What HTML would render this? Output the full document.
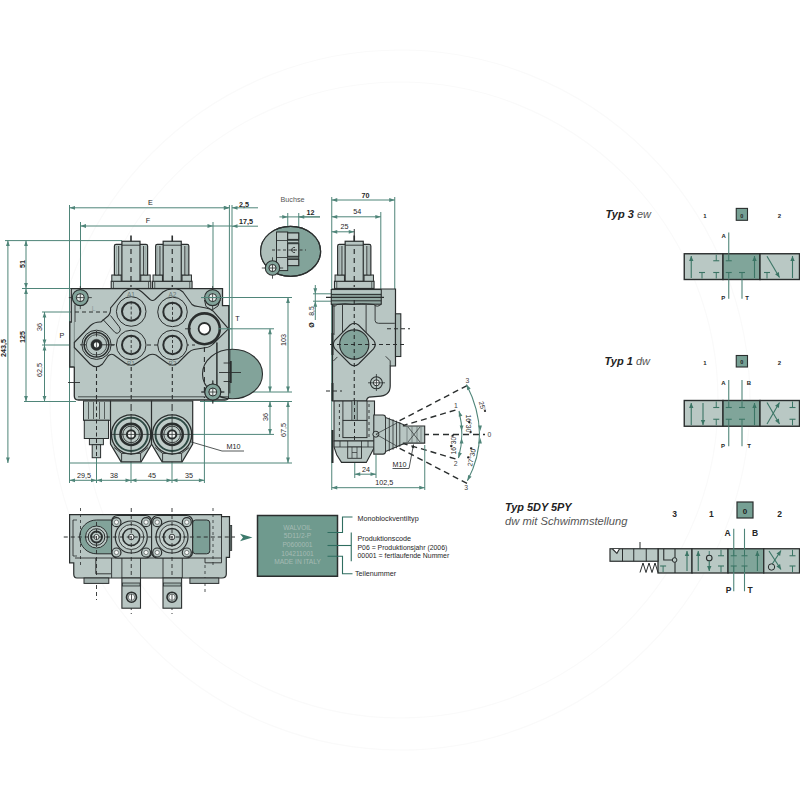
<!DOCTYPE html><html><head><meta charset="utf-8"><style>html,body{margin:0;padding:0;background:#fff;}svg{display:block;}text{font-family:"Liberation Sans",sans-serif;}</style></head><body>
<svg width="800" height="800" viewBox="0 0 800 800">
<rect width="800" height="800" fill="#fff"/>
<circle cx="400" cy="400" r="350" fill="none" stroke="#fafafa" stroke-width="1.2"/>
<circle cx="400" cy="400" r="318" fill="none" stroke="#fafafa" stroke-width="1.2"/>
<line x1="69.5" y1="205" x2="69.5" y2="483" stroke="#4f8579" stroke-width="1" />
<line x1="80.5" y1="222" x2="80.5" y2="300" stroke="#4f8579" stroke-width="1" />
<line x1="229.4" y1="205" x2="229.4" y2="395" stroke="#4f8579" stroke-width="1" />
<line x1="232" y1="205" x2="232" y2="395" stroke="#4f8579" stroke-width="1" />
<line x1="213" y1="222" x2="213" y2="300" stroke="#4f8579" stroke-width="1" />
<line x1="5" y1="240.6" x2="122" y2="240.6" stroke="#4f8579" stroke-width="1" />
<line x1="22" y1="288.5" x2="72" y2="288.5" stroke="#4f8579" stroke-width="1" />
<line x1="42" y1="312" x2="72" y2="312" stroke="#4f8579" stroke-width="1" />
<line x1="42" y1="345" x2="76" y2="345" stroke="#4f8579" stroke-width="1" />
<line x1="24" y1="401.5" x2="76" y2="401.5" stroke="#4f8579" stroke-width="1" />
<line x1="69.5" y1="463" x2="292" y2="463" stroke="#4f8579" stroke-width="1" />
<line x1="201" y1="297.5" x2="292" y2="297.5" stroke="#4f8579" stroke-width="1" />
<line x1="185" y1="328.8" x2="274" y2="328.8" stroke="#4f8579" stroke-width="1" />
<line x1="232" y1="392" x2="292" y2="392" stroke="#4f8579" stroke-width="1" />
<line x1="200" y1="401.5" x2="292" y2="401.5" stroke="#4f8579" stroke-width="1" />
<line x1="172" y1="434.4" x2="274" y2="434.4" stroke="#4f8579" stroke-width="1" />
<line x1="96.5" y1="440" x2="96.5" y2="483" stroke="#4f8579" stroke-width="1" />
<line x1="131" y1="440" x2="131" y2="483" stroke="#4f8579" stroke-width="1" />
<line x1="172" y1="440" x2="172" y2="483" stroke="#4f8579" stroke-width="1" />
<line x1="204.4" y1="400" x2="204.4" y2="483" stroke="#4f8579" stroke-width="1" />
<line x1="69.5" y1="207.8" x2="229.4" y2="207.8" stroke="#4f8579" stroke-width="1" />
<path d="M69.50,207.80 L75.00,205.90 L75.00,209.70Z" fill="#4f8579"/>
<path d="M229.40,207.80 L223.90,209.70 L223.90,205.90Z" fill="#4f8579"/>
<text x="150.5" y="205" font-size="7.2" font-weight="normal" text-anchor="middle" fill="#262626">E</text>
<line x1="80.5" y1="226" x2="213" y2="226" stroke="#4f8579" stroke-width="1" />
<path d="M80.50,226.00 L86.00,224.10 L86.00,227.90Z" fill="#4f8579"/>
<path d="M213.00,226.00 L207.50,227.90 L207.50,224.10Z" fill="#4f8579"/>
<text x="148" y="223" font-size="7.2" font-weight="normal" text-anchor="middle" fill="#262626">F</text>
<line x1="213" y1="226" x2="232" y2="226" stroke="#4f8579" stroke-width="1" />
<path d="M229.40,207.80 L223.90,209.70 L223.90,205.90Z" fill="#4f8579"/>
<path d="M232.00,207.80 L237.50,205.90 L237.50,209.70Z" fill="#4f8579"/>
<line x1="232" y1="207.8" x2="258" y2="207.8" stroke="#4f8579" stroke-width="1" />
<text x="244" y="206.8" font-size="7.2" font-weight="bold" font-style="normal" text-anchor="middle" fill="#262626" >2,5</text>
<path d="M232.00,226.20 L237.50,224.30 L237.50,228.10Z" fill="#4f8579"/>
<line x1="232" y1="226.2" x2="258" y2="226.2" stroke="#4f8579" stroke-width="1" />
<text x="246" y="223.8" font-size="7.2" font-weight="bold" font-style="normal" text-anchor="middle" fill="#262626" >17,5</text>
<line x1="7.9" y1="240.6" x2="7.9" y2="463" stroke="#4f8579" stroke-width="1" />
<path d="M7.90,240.60 L9.80,246.10 L6.00,246.10Z" fill="#4f8579"/>
<path d="M7.90,463.00 L6.00,457.50 L9.80,457.50Z" fill="#4f8579"/>
<text x="0" y="0" transform="translate(6.2,348) rotate(-90)" font-size="7.2" font-weight="bold" text-anchor="middle" fill="#262626">243,5</text>
<line x1="26" y1="240.6" x2="26" y2="288.5" stroke="#4f8579" stroke-width="1" />
<path d="M26.00,240.60 L27.90,246.10 L24.10,246.10Z" fill="#4f8579"/>
<path d="M26.00,288.50 L24.10,283.00 L27.90,283.00Z" fill="#4f8579"/>
<text x="0" y="0" transform="translate(25,264) rotate(-90)" font-size="7.2" font-weight="bold" text-anchor="middle" fill="#262626">51</text>
<line x1="26" y1="288.5" x2="26" y2="401.5" stroke="#4f8579" stroke-width="1" />
<path d="M26.00,288.50 L27.90,294.00 L24.10,294.00Z" fill="#4f8579"/>
<path d="M26.00,401.50 L24.10,396.00 L27.90,396.00Z" fill="#4f8579"/>
<text x="0" y="0" transform="translate(25,337) rotate(-90)" font-size="7.2" font-weight="bold" text-anchor="middle" fill="#262626">125</text>
<line x1="44.5" y1="312" x2="44.5" y2="345" stroke="#4f8579" stroke-width="1" />
<path d="M44.50,312.00 L46.40,317.50 L42.60,317.50Z" fill="#4f8579"/>
<path d="M44.50,345.00 L42.60,339.50 L46.40,339.50Z" fill="#4f8579"/>
<text x="0" y="0" transform="translate(42.2,327) rotate(-90)" font-size="7.2" font-weight="normal" text-anchor="middle" fill="#262626">36</text>
<line x1="44.5" y1="345" x2="44.5" y2="401.5" stroke="#4f8579" stroke-width="1" />
<path d="M44.50,345.00 L46.40,350.50 L42.60,350.50Z" fill="#4f8579"/>
<path d="M44.50,401.50 L42.60,396.00 L46.40,396.00Z" fill="#4f8579"/>
<text x="0" y="0" transform="translate(42.2,370) rotate(-90)" font-size="7.2" font-weight="normal" text-anchor="middle" fill="#262626">62,5</text>
<line x1="288" y1="297.5" x2="288" y2="392" stroke="#4f8579" stroke-width="1" />
<path d="M288.00,297.50 L289.90,303.00 L286.10,303.00Z" fill="#4f8579"/>
<path d="M288.00,392.00 L286.10,386.50 L289.90,386.50Z" fill="#4f8579"/>
<text x="0" y="0" transform="translate(286,340) rotate(-90)" font-size="7.2" font-weight="normal" text-anchor="middle" fill="#262626">103</text>
<line x1="270" y1="328.8" x2="270" y2="392" stroke="#4f8579" stroke-width="1" />
<path d="M270.00,328.80 L271.90,334.30 L268.10,334.30Z" fill="#4f8579"/>
<path d="M270.00,392.00 L268.10,386.50 L271.90,386.50Z" fill="#4f8579"/>
<line x1="270" y1="401.5" x2="270" y2="434.4" stroke="#4f8579" stroke-width="1" />
<path d="M270.00,401.50 L271.90,407.00 L268.10,407.00Z" fill="#4f8579"/>
<path d="M270.00,434.40 L268.10,428.90 L271.90,428.90Z" fill="#4f8579"/>
<text x="0" y="0" transform="translate(268,417) rotate(-90)" font-size="7.2" font-weight="normal" text-anchor="middle" fill="#262626">36</text>
<line x1="288" y1="401.5" x2="288" y2="463" stroke="#4f8579" stroke-width="1" />
<path d="M288.00,401.50 L289.90,407.00 L286.10,407.00Z" fill="#4f8579"/>
<path d="M288.00,463.00 L286.10,457.50 L289.90,457.50Z" fill="#4f8579"/>
<text x="0" y="0" transform="translate(286,430) rotate(-90)" font-size="7.2" font-weight="normal" text-anchor="middle" fill="#262626">67,5</text>
<line x1="69.5" y1="480.3" x2="96.5" y2="480.3" stroke="#4f8579" stroke-width="1" />
<path d="M69.50,480.30 L75.00,478.40 L75.00,482.20Z" fill="#4f8579"/>
<path d="M96.50,480.30 L91.00,482.20 L91.00,478.40Z" fill="#4f8579"/>
<text x="84" y="477.5" font-size="7.2" font-weight="normal" text-anchor="middle" fill="#262626">29,5</text>
<line x1="96.5" y1="480.3" x2="131" y2="480.3" stroke="#4f8579" stroke-width="1" />
<path d="M96.50,480.30 L102.00,478.40 L102.00,482.20Z" fill="#4f8579"/>
<path d="M131.00,480.30 L125.50,482.20 L125.50,478.40Z" fill="#4f8579"/>
<text x="114" y="477.5" font-size="7.2" font-weight="normal" text-anchor="middle" fill="#262626">38</text>
<line x1="131" y1="480.3" x2="172" y2="480.3" stroke="#4f8579" stroke-width="1" />
<path d="M131.00,480.30 L136.50,478.40 L136.50,482.20Z" fill="#4f8579"/>
<path d="M172.00,480.30 L166.50,482.20 L166.50,478.40Z" fill="#4f8579"/>
<text x="152" y="477.5" font-size="7.2" font-weight="normal" text-anchor="middle" fill="#262626">45</text>
<line x1="172" y1="480.3" x2="204.4" y2="480.3" stroke="#4f8579" stroke-width="1" />
<path d="M172.00,480.30 L177.50,478.40 L177.50,482.20Z" fill="#4f8579"/>
<path d="M204.40,480.30 L198.90,482.20 L198.90,478.40Z" fill="#4f8579"/>
<text x="189" y="477.5" font-size="7.2" font-weight="normal" text-anchor="middle" fill="#262626">35</text>
<text x="62" y="338" font-size="7.2" font-weight="normal" font-style="normal" text-anchor="middle" fill="#262626" >P</text>
<text x="237.5" y="321" font-size="7.2" font-weight="normal" font-style="normal" text-anchor="middle" fill="#262626" >T</text>
<line x1="131" y1="235.5" x2="131" y2="242" stroke="#2a2e2e" stroke-width="1.6" />
<rect x="111.2" y="281.25" width="39.6" height="7.2" fill="#b8c6c3" stroke="#2a2e2e" stroke-width="1.1" />
<line x1="113.5" y1="282" x2="113.5" y2="288" stroke="#2a2e2e" stroke-width="0.7" />
<line x1="148.5" y1="282" x2="148.5" y2="288" stroke="#2a2e2e" stroke-width="0.7" />
<rect x="111.8" y="275" width="9.4" height="6.25" fill="#b8c6c3" stroke="#2a2e2e" stroke-width="1" />
<rect x="140.8" y="275" width="9.4" height="6.25" fill="#b8c6c3" stroke="#2a2e2e" stroke-width="1" />
<path d="M114.4,275 L114.4,246 Q114.4,244.4 116,244.4 L146,244.4 Q147.6,244.4 147.6,246 L147.6,275 Z" fill="#b8c6c3" stroke="#2a2e2e" stroke-width="1.2"/>
<line x1="118.7" y1="246" x2="118.7" y2="275" stroke="#2a2e2e" stroke-width="0.9" />
<line x1="143.6" y1="246" x2="143.6" y2="275" stroke="#2a2e2e" stroke-width="0.9" />
<line x1="116.5" y1="246" x2="116.5" y2="275" stroke="#7f8f8c" stroke-width="0.6" />
<line x1="145.8" y1="246" x2="145.8" y2="275" stroke="#7f8f8c" stroke-width="0.6" />
<rect x="121.9" y="241.25" width="18.1" height="40" fill="#b8c6c3" stroke="#2a2e2e" stroke-width="1.2" />
<line x1="122" y1="245.2" x2="140" y2="245.2" stroke="#2a2e2e" stroke-width="0.9" />
<line x1="131" y1="249" x2="131" y2="287" stroke="#2a2e2e" stroke-width="1.2" stroke-dasharray="5,4"/>
<line x1="172.25" y1="235.5" x2="172.25" y2="242" stroke="#2a2e2e" stroke-width="1.6" />
<rect x="152.45" y="281.25" width="39.6" height="7.2" fill="#b8c6c3" stroke="#2a2e2e" stroke-width="1.1" />
<line x1="154.75" y1="282" x2="154.75" y2="288" stroke="#2a2e2e" stroke-width="0.7" />
<line x1="189.75" y1="282" x2="189.75" y2="288" stroke="#2a2e2e" stroke-width="0.7" />
<rect x="153.05" y="275" width="9.4" height="6.25" fill="#b8c6c3" stroke="#2a2e2e" stroke-width="1" />
<rect x="182.05" y="275" width="9.4" height="6.25" fill="#b8c6c3" stroke="#2a2e2e" stroke-width="1" />
<path d="M155.65,275 L155.65,246 Q155.65,244.4 157.25,244.4 L187.25,244.4 Q188.85,244.4 188.85,246 L188.85,275 Z" fill="#b8c6c3" stroke="#2a2e2e" stroke-width="1.2"/>
<line x1="159.95" y1="246" x2="159.95" y2="275" stroke="#2a2e2e" stroke-width="0.9" />
<line x1="184.85" y1="246" x2="184.85" y2="275" stroke="#2a2e2e" stroke-width="0.9" />
<line x1="157.75" y1="246" x2="157.75" y2="275" stroke="#7f8f8c" stroke-width="0.6" />
<line x1="187.05" y1="246" x2="187.05" y2="275" stroke="#7f8f8c" stroke-width="0.6" />
<rect x="163.15" y="241.25" width="18.1" height="40" fill="#b8c6c3" stroke="#2a2e2e" stroke-width="1.2" />
<line x1="163.25" y1="245.2" x2="181.25" y2="245.2" stroke="#2a2e2e" stroke-width="0.9" />
<line x1="172.25" y1="249" x2="172.25" y2="287" stroke="#2a2e2e" stroke-width="1.2" stroke-dasharray="5,4"/>
<path d="M71.25,288.7 L222.5,288.7 L222.5,305.6 L228.8,305.6 L228.8,396 Q228.8,400 225,400 L78.5,400 Q74.3,400 74.3,396 L74.3,367 L69.8,367 L69.8,322 L71.25,322 Z" fill="#b8c6c3" stroke="#2a2e2e" stroke-width="1.3" />
<line x1="75" y1="304.5" x2="75" y2="322" stroke="#2a2e2e" stroke-width="0.9" />
<line x1="74.3" y1="322" x2="74.3" y2="367" stroke="#6d7b78" stroke-width="0.8" />
<line x1="78" y1="396.8" x2="228.5" y2="396.8" stroke="#2a2e2e" stroke-width="0.8" />
<line x1="216.9" y1="342.5" x2="216.9" y2="392" stroke="#2a2e2e" stroke-width="1" />
<line x1="68" y1="382.5" x2="80" y2="382.5" stroke="#2a2e2e" stroke-width="0.9" />
<path d="M74.3,342.5 L90.5,325.5 Q95,321.5 101,322 L108,316 Q111,313 110.6,308 L124,292 Q127.5,289 131,289 L135,289 Q139,289 142,292 L150,299.5 Q152.5,301.5 155,299.5 L163,292 Q167,289 172,289 L176,289 Q180,289 183,292 L192,304.5 Q194,306.3 198,306.5 L206,308 Q210,308.6 213,311 L228.5,328.8 L213,344 Q210,347.5 205,347.7 L194,349.5 Q191,350 188,353 L178,363 Q172.5,367.5 167,363 L156,355 Q152.5,353.5 149,355 L137,363 Q131.2,367.5 125,363 L114,355 Q111,353 108,356 L102.5,364 Q96.3,369.5 90,364 L74.3,347.5 Z" fill="#b8c6c3" stroke="#2a2e2e" stroke-width="1.1" />
<path d="M103,319.5 L114.5,332 Q117.5,335 120,331 Q121,329 119,326.5 L110.5,315.5" fill="none" stroke="#2a2e2e" stroke-width="1" />
<line x1="75" y1="312" x2="110" y2="312" stroke="#2a2e2e" stroke-width="1.1" stroke-dasharray="4,3"/>
<text x="93.5" y="311" font-size="6.5" font-weight="normal" font-style="normal" text-anchor="middle" fill="#8a9a98" >L</text>
<line x1="96.5" y1="367" x2="96.5" y2="440" stroke="#2a2e2e" stroke-width="1.1" stroke-dasharray="4,3"/>
<line x1="131.2" y1="367" x2="131.2" y2="400" stroke="#2a2e2e" stroke-width="1.1" stroke-dasharray="4,3"/>
<line x1="172.3" y1="367" x2="172.3" y2="400" stroke="#2a2e2e" stroke-width="1.1" stroke-dasharray="4,3"/>
<line x1="110" y1="345" x2="118" y2="345" stroke="#2a2e2e" stroke-width="1" stroke-dasharray="4,3"/>
<line x1="140" y1="345" x2="160" y2="345" stroke="#2a2e2e" stroke-width="1" stroke-dasharray="4,3"/>
<line x1="185" y1="345" x2="195" y2="345" stroke="#2a2e2e" stroke-width="1" stroke-dasharray="4,3"/>
<circle cx="131.2" cy="311.5" r="14.8" fill="#b8c6c3" stroke="#2a2e2e" stroke-width="1.0"/>
<circle cx="131.2" cy="311.5" r="9.2" fill="#b8c6c3" stroke="#2a2e2e" stroke-width="2.0"/>
<line x1="131.2" y1="301.5" x2="131.2" y2="321.5" stroke="#2a2e2e" stroke-width="0.9" stroke-dasharray="3,2"/>
<circle cx="172.5" cy="311.9" r="14.8" fill="#b8c6c3" stroke="#2a2e2e" stroke-width="1.0"/>
<circle cx="172.5" cy="311.9" r="9.2" fill="#b8c6c3" stroke="#2a2e2e" stroke-width="2.0"/>
<line x1="172.5" y1="301.9" x2="172.5" y2="321.9" stroke="#2a2e2e" stroke-width="0.9" stroke-dasharray="3,2"/>
<circle cx="131.2" cy="345" r="14.8" fill="#b8c6c3" stroke="#2a2e2e" stroke-width="1.0"/>
<circle cx="131.2" cy="345" r="9.2" fill="#b8c6c3" stroke="#2a2e2e" stroke-width="2.0"/>
<line x1="131.2" y1="335" x2="131.2" y2="355" stroke="#2a2e2e" stroke-width="0.9" stroke-dasharray="3,2"/>
<circle cx="172.5" cy="345" r="14.8" fill="#b8c6c3" stroke="#2a2e2e" stroke-width="1.0"/>
<circle cx="172.5" cy="345" r="9.2" fill="#b8c6c3" stroke="#2a2e2e" stroke-width="2.0"/>
<line x1="172.5" y1="335" x2="172.5" y2="355" stroke="#2a2e2e" stroke-width="0.9" stroke-dasharray="3,2"/>
<text x="131" y="296.5" font-size="6.5" font-weight="normal" font-style="normal" text-anchor="middle" fill="#6a7876" >A1</text>
<text x="172.5" y="296.5" font-size="6.5" font-weight="normal" font-style="normal" text-anchor="middle" fill="#6a7876" >A2</text>
<text x="131" y="366" font-size="6.5" font-weight="normal" font-style="normal" text-anchor="middle" fill="#6a7876" >B1</text>
<text x="172.5" y="366" font-size="6.5" font-weight="normal" font-style="normal" text-anchor="middle" fill="#6a7876" >B2</text>
<circle cx="96.5" cy="344.8" r="14.6" fill="#b8c6c3" stroke="#2a2e2e" stroke-width="1.0"/>
<circle cx="96.5" cy="344.8" r="12.3" fill="#b8c6c3" stroke="#2a2e2e" stroke-width="1.5"/>
<circle cx="96.5" cy="344.8" r="10.2" fill="#b8c6c3" stroke="#2a2e2e" stroke-width="0.8"/>
<circle cx="96.5" cy="344.8" r="5.6" fill="#2a2e2e" stroke="#2a2e2e" stroke-width="0.5"/>
<circle cx="96.5" cy="344.8" r="2.6" fill="#eef2f1" stroke="none" stroke-width="0"/>
<line x1="96.5" y1="342" x2="96.5" y2="347.5" stroke="#2a2e2e" stroke-width="0.7" />
<line x1="80" y1="344.8" x2="86.3" y2="344.8" stroke="#2a2e2e" stroke-width="0.9" />
<line x1="102" y1="344.8" x2="115" y2="344.8" stroke="#2a2e2e" stroke-width="0.9" />
<line x1="96.5" y1="331" x2="96.5" y2="336.5" stroke="#2a2e2e" stroke-width="0.9" />
<line x1="96.5" y1="352" x2="96.5" y2="357" stroke="#2a2e2e" stroke-width="0.9" />
<circle cx="204.4" cy="328.8" r="15.4" fill="#b8c6c3" stroke="#2a2e2e" stroke-width="2.6"/>
<circle cx="204.4" cy="328.8" r="5.8" fill="#fff" stroke="#2a2e2e" stroke-width="1.8"/>
<line x1="68.8" y1="297.6" x2="91.8" y2="297.6" stroke="#2a2e2e" stroke-width="0.8" />
<line x1="80.3" y1="286.1" x2="80.3" y2="309.1" stroke="#2a2e2e" stroke-width="0.8" />
<circle cx="80.3" cy="297.6" r="8" fill="#82a39a" stroke="#2a2e2e" stroke-width="1.1"/>
<circle cx="80.3" cy="297.6" r="4.0" fill="#e8eeec" stroke="#2a2e2e" stroke-width="1.0"/>
<line x1="76.3" y1="297.6" x2="84.3" y2="297.6" stroke="#2a2e2e" stroke-width="0.8" />
<line x1="80.3" y1="293.6" x2="80.3" y2="301.6" stroke="#2a2e2e" stroke-width="0.8" />
<path d="M204.5,300 L206,306.5 L212,310 L218,306 L220,300" fill="#b8c6c3" stroke="#2a2e2e" stroke-width="1" />
<line x1="201.1" y1="297.6" x2="224.1" y2="297.6" stroke="#2a2e2e" stroke-width="0.8" />
<line x1="212.6" y1="286.1" x2="212.6" y2="309.1" stroke="#2a2e2e" stroke-width="0.8" />
<circle cx="212.6" cy="297.6" r="8" fill="#82a39a" stroke="#2a2e2e" stroke-width="1.1"/>
<circle cx="212.6" cy="297.6" r="4.0" fill="#e8eeec" stroke="#2a2e2e" stroke-width="1.0"/>
<line x1="208.6" y1="297.6" x2="216.6" y2="297.6" stroke="#2a2e2e" stroke-width="0.8" />
<line x1="212.6" y1="293.6" x2="212.6" y2="301.6" stroke="#2a2e2e" stroke-width="0.8" />
<line x1="201.3" y1="392" x2="224.3" y2="392" stroke="#2a2e2e" stroke-width="0.8" />
<line x1="212.8" y1="380.5" x2="212.8" y2="403.5" stroke="#2a2e2e" stroke-width="0.8" />
<circle cx="212.8" cy="392" r="8" fill="#82a39a" stroke="#2a2e2e" stroke-width="1.1"/>
<circle cx="212.8" cy="392" r="4.0" fill="#e8eeec" stroke="#2a2e2e" stroke-width="1.0"/>
<line x1="208.8" y1="392" x2="216.8" y2="392" stroke="#2a2e2e" stroke-width="0.8" />
<line x1="212.8" y1="388.0" x2="212.8" y2="396.0" stroke="#2a2e2e" stroke-width="0.8" />
<line x1="201" y1="297.5" x2="232" y2="297.5" stroke="#4f8579" stroke-width="1" />
<line x1="185" y1="328.8" x2="191" y2="328.8" stroke="#2a2e2e" stroke-width="0.9" />
<line x1="218" y1="328.8" x2="232" y2="328.8" stroke="#4f8579" stroke-width="1" />
<defs><clipPath id="ell1"><ellipse cx="232.5" cy="374" rx="30" ry="24.8"/></clipPath><clipPath id="ell2"><ellipse cx="290.6" cy="251.3" rx="30" ry="25"/></clipPath></defs>
<line x1="216.9" y1="342.5" x2="216.9" y2="398" stroke="#2a2e2e" stroke-width="1" />
<line x1="204.4" y1="347" x2="204.4" y2="398" stroke="#2a2e2e" stroke-width="1.1" stroke-dasharray="5,5"/>
<rect x="229" y="340" width="40" height="70" fill="#82a39a" clip-path="url(#ell1)"/>
<ellipse cx="232.5" cy="374" rx="30" ry="24.8" fill="none" stroke="#2a2e2e" stroke-width="1.1"/>
<line x1="229.8" y1="349.5" x2="229.8" y2="393.4" stroke="#2a2e2e" stroke-width="1.0" />
<line x1="230.8" y1="361" x2="230.8" y2="383" stroke="#2a2e2e" stroke-width="1.8" />
<line x1="223.6" y1="363" x2="230" y2="363" stroke="#2a2e2e" stroke-width="0.9" />
<line x1="219" y1="372.5" x2="241" y2="372.5" stroke="#2a2e2e" stroke-width="0.9" />
<line x1="223.6" y1="381.5" x2="230" y2="381.5" stroke="#2a2e2e" stroke-width="0.9" />
<line x1="201.3" y1="392" x2="224.3" y2="392" stroke="#2a2e2e" stroke-width="0.8" />
<line x1="212.8" y1="380.5" x2="212.8" y2="403.5" stroke="#2a2e2e" stroke-width="0.8" />
<circle cx="212.8" cy="392" r="8" fill="#82a39a" stroke="#2a2e2e" stroke-width="1.1"/>
<circle cx="212.8" cy="392" r="4.0" fill="#e8eeec" stroke="#2a2e2e" stroke-width="1.0"/>
<line x1="208.8" y1="392" x2="216.8" y2="392" stroke="#2a2e2e" stroke-width="0.8" />
<line x1="212.8" y1="388.0" x2="212.8" y2="396.0" stroke="#2a2e2e" stroke-width="0.8" />
<rect x="83.5" y="401" width="27" height="19.3" fill="#b8c6c3" stroke="#2a2e2e" stroke-width="1" />
<line x1="88.5" y1="402" x2="88.5" y2="419" stroke="#2a2e2e" stroke-width="0.7" />
<line x1="93.5" y1="402" x2="93.5" y2="419" stroke="#2a2e2e" stroke-width="0.7" />
<line x1="99.5" y1="402" x2="99.5" y2="419" stroke="#2a2e2e" stroke-width="0.7" />
<line x1="104.5" y1="402" x2="104.5" y2="419" stroke="#2a2e2e" stroke-width="0.7" />
<rect x="84.3" y="420.3" width="24.2" height="18.2" fill="#b8c6c3" stroke="#2a2e2e" stroke-width="1" />
<rect x="89.4" y="438.5" width="14" height="6.2" fill="#b8c6c3" stroke="#2a2e2e" stroke-width="1" />
<rect x="92.2" y="444.7" width="8.4" height="13" fill="#b8c6c3" stroke="#2a2e2e" stroke-width="1" />
<line x1="96.5" y1="400" x2="96.5" y2="458" stroke="#2a2e2e" stroke-width="1" stroke-dasharray="4,2.5"/>
<path d="M110.5,401 L151.7,401 L151.7,444 L141.1,461.8 L121.1,461.8 L110.5,444 Z" fill="#b8c6c3" stroke="#2a2e2e" stroke-width="1.2" />
<path d="M114.1,447.5 L121.6,453.4 L140.6,453.4 L148.1,447.5" fill="none" stroke="#2a2e2e" stroke-width="0.9" />
<line x1="121.6" y1="453.4" x2="121.6" y2="461.8" stroke="#2a2e2e" stroke-width="0.9" />
<line x1="140.6" y1="453.4" x2="140.6" y2="461.8" stroke="#2a2e2e" stroke-width="0.9" />
<circle cx="131.1" cy="434.4" r="19.6" fill="#bfccc9" stroke="#2a2e2e" stroke-width="1.3"/>
<circle cx="131.1" cy="434.4" r="16.6" fill="#bfccc9" stroke="#2f4a45" stroke-width="2.0"/>
<circle cx="131.1" cy="434.4" r="10.7" fill="#bfccc9" stroke="#2a2e2e" stroke-width="2.4"/>
<circle cx="131.1" cy="434.4" r="8.3" fill="#bfccc9" stroke="#2a2e2e" stroke-width="0.9"/>
<circle cx="131.1" cy="434.4" r="4.2" fill="#f4f6f5" stroke="#2a2e2e" stroke-width="2.0"/>
<line x1="110.1" y1="434.4" x2="152.1" y2="434.4" stroke="#2a2e2e" stroke-width="0.8" />
<line x1="131.1" y1="414" x2="131.1" y2="455" stroke="#2a2e2e" stroke-width="0.8" />
<line x1="131.1" y1="404" x2="131.1" y2="411" stroke="#2a2e2e" stroke-width="1" />
<path d="M151.5,401 L192.7,401 L192.7,444 L182.1,461.8 L162.1,461.8 L151.5,444 Z" fill="#b8c6c3" stroke="#2a2e2e" stroke-width="1.2" />
<path d="M155.1,447.5 L162.6,453.4 L181.6,453.4 L189.1,447.5" fill="none" stroke="#2a2e2e" stroke-width="0.9" />
<line x1="162.6" y1="453.4" x2="162.6" y2="461.8" stroke="#2a2e2e" stroke-width="0.9" />
<line x1="181.6" y1="453.4" x2="181.6" y2="461.8" stroke="#2a2e2e" stroke-width="0.9" />
<circle cx="172.1" cy="434.4" r="19.6" fill="#bfccc9" stroke="#2a2e2e" stroke-width="1.3"/>
<circle cx="172.1" cy="434.4" r="16.6" fill="#bfccc9" stroke="#2f4a45" stroke-width="2.0"/>
<circle cx="172.1" cy="434.4" r="10.7" fill="#bfccc9" stroke="#2a2e2e" stroke-width="2.4"/>
<circle cx="172.1" cy="434.4" r="8.3" fill="#bfccc9" stroke="#2a2e2e" stroke-width="0.9"/>
<circle cx="172.1" cy="434.4" r="4.2" fill="#f4f6f5" stroke="#2a2e2e" stroke-width="2.0"/>
<line x1="151.1" y1="434.4" x2="193.1" y2="434.4" stroke="#2a2e2e" stroke-width="0.8" />
<line x1="172.1" y1="414" x2="172.1" y2="455" stroke="#2a2e2e" stroke-width="0.8" />
<line x1="172.1" y1="404" x2="172.1" y2="411" stroke="#2a2e2e" stroke-width="1" />
<line x1="190" y1="441.6" x2="222" y2="451" stroke="#2a2e2e" stroke-width="0.8" />
<line x1="222" y1="451" x2="244" y2="451" stroke="#2a2e2e" stroke-width="0.8" />
<text x="233.5" y="449" font-size="7.2" font-weight="normal" font-style="normal" text-anchor="middle" fill="#262626" >M10</text>
<text x="292.5" y="201.8" font-size="7.2" font-weight="normal" font-style="normal" text-anchor="middle" fill="#555" >Buchse</text>
<line x1="287.75" y1="213" x2="287.75" y2="232" stroke="#4f8579" stroke-width="1" />
<line x1="298.75" y1="213" x2="298.75" y2="232" stroke="#4f8579" stroke-width="1" />
<line x1="279.4" y1="216.9" x2="320" y2="216.9" stroke="#4f8579" stroke-width="1" />
<path d="M287.75,216.90 L282.25,218.80 L282.25,215.00Z" fill="#4f8579"/>
<line x1="298.75" y1="216.9" x2="320" y2="216.9" stroke="#4f8579" stroke-width="1" />
<path d="M298.75,216.90 L304.25,215.00 L304.25,218.80Z" fill="#4f8579"/>
<text x="310.6" y="214.5" font-size="7.2" font-weight="bold" font-style="normal" text-anchor="middle" fill="#262626" >12</text>
<ellipse cx="290.6" cy="251.3" rx="30" ry="25" fill="#82a39a" stroke="#2a2e2e" stroke-width="1.2"/>
<rect x="250" y="220" width="26.5" height="70" fill="#aebfba" clip-path="url(#ell2)"/>
<ellipse cx="290.6" cy="251.3" rx="30" ry="25" fill="none" stroke="#2a2e2e" stroke-width="1.2"/>
<rect x="276.5" y="232" width="11.2" height="38.6" fill="#b8c6c3" stroke="#2a2e2e" stroke-width="1" />
<line x1="276.5" y1="240.5" x2="287.7" y2="240.5" stroke="#2a2e2e" stroke-width="0.8" />
<line x1="276.5" y1="257.5" x2="287.7" y2="257.5" stroke="#2a2e2e" stroke-width="0.8" />
<rect x="287.7" y="233" width="11" height="32.6" fill="#5d7f77" stroke="#2a2e2e" stroke-width="1" />
<rect x="287.7" y="233" width="11" height="6.400000000000006" fill="#b8c6c3" stroke="#2a2e2e" stroke-width="1" />
<rect x="287.7" y="243.7" width="11" height="12.600000000000023" fill="#b8c6c3" stroke="#2a2e2e" stroke-width="1" />
<rect x="287.7" y="259.4" width="11" height="6.2000000000000455" fill="#b8c6c3" stroke="#2a2e2e" stroke-width="1" />
<rect x="287.7" y="240.6" width="11" height="2" fill="#b8c6c3" stroke="#2a2e2e" stroke-width="0.6" />
<rect x="287.7" y="257.2" width="11" height="1.5" fill="#b8c6c3" stroke="#2a2e2e" stroke-width="0.6" />
<line x1="272" y1="250" x2="306" y2="250" stroke="#2a2e2e" stroke-width="0.9" stroke-dasharray="3,2.5"/>
<path d="M295,247.5 A2.6,2.6 0 1 0 295,252.5 M291.5,250 L295,250" fill="none" stroke="#2a2e2e" stroke-width="0.9"/>
<line x1="261.8" y1="268" x2="283.2" y2="268" stroke="#2a2e2e" stroke-width="0.8" />
<line x1="272.5" y1="257.3" x2="272.5" y2="278.7" stroke="#2a2e2e" stroke-width="0.8" />
<circle cx="272.5" cy="268" r="7.2" fill="#82a39a" stroke="#2a2e2e" stroke-width="1.1"/>
<circle cx="272.5" cy="268" r="3.6" fill="#e8eeec" stroke="#2a2e2e" stroke-width="1.0"/>
<line x1="268.9" y1="268" x2="276.1" y2="268" stroke="#2a2e2e" stroke-width="0.8" />
<line x1="272.5" y1="264.4" x2="272.5" y2="271.6" stroke="#2a2e2e" stroke-width="0.8" />
<line x1="331.75" y1="197" x2="331.75" y2="490" stroke="#4f8579" stroke-width="1" />
<line x1="394.75" y1="197" x2="394.75" y2="290" stroke="#4f8579" stroke-width="1" />
<line x1="380.8" y1="212" x2="380.8" y2="290" stroke="#4f8579" stroke-width="1" />
<line x1="331.75" y1="200" x2="394.75" y2="200" stroke="#4f8579" stroke-width="1" />
<path d="M331.75,200.00 L337.25,198.10 L337.25,201.90Z" fill="#4f8579"/>
<path d="M394.75,200.00 L389.25,201.90 L389.25,198.10Z" fill="#4f8579"/>
<text x="365.5" y="197.5" font-size="7.2" font-weight="bold" text-anchor="middle" fill="#262626">70</text>
<line x1="331.75" y1="216.8" x2="380.8" y2="216.8" stroke="#4f8579" stroke-width="1" />
<path d="M331.75,216.80 L337.25,214.90 L337.25,218.70Z" fill="#4f8579"/>
<path d="M380.80,216.80 L375.30,218.70 L375.30,214.90Z" fill="#4f8579"/>
<text x="357.3" y="213.8" font-size="7.2" font-weight="normal" text-anchor="middle" fill="#262626">54</text>
<line x1="331.75" y1="231.8" x2="354.25" y2="231.8" stroke="#4f8579" stroke-width="1" />
<path d="M331.75,231.80 L337.25,229.90 L337.25,233.70Z" fill="#4f8579"/>
<path d="M354.25,231.80 L348.75,233.70 L348.75,229.90Z" fill="#4f8579"/>
<text x="344.5" y="229" font-size="7.2" font-weight="normal" text-anchor="middle" fill="#262626">25</text>
<line x1="354.25" y1="229" x2="354.25" y2="241" stroke="#2a2e2e" stroke-width="1" />
<line x1="354.25" y1="235.5" x2="354.25" y2="242" stroke="#2a2e2e" stroke-width="1.6" />
<rect x="334.45" y="281.25" width="39.6" height="7.2" fill="#b8c6c3" stroke="#2a2e2e" stroke-width="1.1" />
<line x1="336.75" y1="282" x2="336.75" y2="288" stroke="#2a2e2e" stroke-width="0.7" />
<line x1="371.75" y1="282" x2="371.75" y2="288" stroke="#2a2e2e" stroke-width="0.7" />
<rect x="335.05" y="275" width="9.4" height="6.25" fill="#b8c6c3" stroke="#2a2e2e" stroke-width="1" />
<rect x="364.05" y="275" width="9.4" height="6.25" fill="#b8c6c3" stroke="#2a2e2e" stroke-width="1" />
<path d="M337.65,275 L337.65,246 Q337.65,244.4 339.25,244.4 L369.25,244.4 Q370.85,244.4 370.85,246 L370.85,275 Z" fill="#b8c6c3" stroke="#2a2e2e" stroke-width="1.2"/>
<line x1="341.95" y1="246" x2="341.95" y2="275" stroke="#2a2e2e" stroke-width="0.9" />
<line x1="366.85" y1="246" x2="366.85" y2="275" stroke="#2a2e2e" stroke-width="0.9" />
<line x1="339.75" y1="246" x2="339.75" y2="275" stroke="#7f8f8c" stroke-width="0.6" />
<line x1="369.05" y1="246" x2="369.05" y2="275" stroke="#7f8f8c" stroke-width="0.6" />
<rect x="345.15" y="241.25" width="18.1" height="40" fill="#b8c6c3" stroke="#2a2e2e" stroke-width="1.2" />
<line x1="345.25" y1="245.2" x2="363.25" y2="245.2" stroke="#2a2e2e" stroke-width="0.9" />
<line x1="354.25" y1="249" x2="354.25" y2="287" stroke="#2a2e2e" stroke-width="1.2" stroke-dasharray="5,4"/>
<line x1="313" y1="293.8" x2="331" y2="293.8" stroke="#4f8579" stroke-width="1" />
<line x1="313" y1="301.2" x2="331" y2="301.2" stroke="#4f8579" stroke-width="1" />
<line x1="315.3" y1="285" x2="315.3" y2="320" stroke="#4f8579" stroke-width="1" />
<path d="M315.30,293.80 L313.40,288.30 L317.20,288.30Z" fill="#4f8579"/>
<path d="M315.30,301.20 L317.20,306.70 L313.40,306.70Z" fill="#4f8579"/>
<text x="0" y="0" transform="translate(314,311) rotate(-90)" font-size="6.8" text-anchor="middle" fill="#262626">8,5</text>
<text x="0" y="0" transform="translate(314,325) rotate(-90)" font-size="7" font-weight="bold" text-anchor="middle" fill="#262626">Ø</text>
<path d="M332.5,289 L395.5,289 L395.5,366 L390.2,366 L390.2,386 Q390.2,396 378,396.4 L369,397.2 Q366.6,398 366.6,401 L332.5,401 Z" fill="#b8c6c3" stroke="#2a2e2e" stroke-width="1.2" />
<rect x="331.25" y="289.6" width="50" height="14.6" fill="#93aaa4" stroke="#2a2e2e" stroke-width="1.1" />
<rect x="332" y="290.2" width="48.5" height="3" fill="#b5c4c1" stroke="none" stroke-width="0" />
<line x1="331.25" y1="294.6" x2="381.3" y2="294.6" stroke="#2a2e2e" stroke-width="1.0" />
<line x1="326" y1="297.4" x2="384" y2="297.4" stroke="#2a2e2e" stroke-width="1.1" />
<line x1="331.25" y1="300.8" x2="381.3" y2="300.8" stroke="#2a2e2e" stroke-width="1.0" />
<path d="M331.25,304.2 Q334,308 337,304.5 Q345,303 353,304.5 Q360,303 374,304.5 Q377,308 381.3,304.2" fill="none" stroke="#2a2e2e" stroke-width="1.0" />
<line x1="334" y1="305" x2="334" y2="335" stroke="#2a2e2e" stroke-width="0.9" />
<line x1="342.5" y1="305" x2="342.5" y2="335" stroke="#2a2e2e" stroke-width="0.9" />
<line x1="366.1" y1="305" x2="366.1" y2="335" stroke="#2a2e2e" stroke-width="0.9" />
<path d="M375.1,305 L375.1,320.5 Q375.1,323.3 378.5,323.3 L394.8,323.3" fill="none" stroke="#2a2e2e" stroke-width="0.9" />
<path d="M385.7,356.3 L390.2,360.8 L390.2,366" fill="none" stroke="#2a2e2e" stroke-width="0.9" />
<path d="M333.4,361 L337.4,356.9" fill="none" stroke="#2a2e2e" stroke-width="0.9" />
<line x1="332.5" y1="383" x2="332.5" y2="401" stroke="#2a2e2e" stroke-width="2" />
<line x1="332.5" y1="333" x2="332.5" y2="355" stroke="#2a2e2e" stroke-width="2" />
<line x1="332.5" y1="430" x2="332.5" y2="463" stroke="#2a2e2e" stroke-width="2" />
<rect x="395.5" y="313.8" width="5.3" height="42.7" fill="#a8b8b4" stroke="#2a2e2e" stroke-width="1.1" />
<path d="M350,325 Q354.25,321.5 358.5,325 L373.5,340 Q377,344.5 373.5,349 L358.5,364 Q354.25,367.5 350,364 L335,349 Q331.5,344.5 335,340 Z" fill="#b8c6c3" stroke="#2a2e2e" stroke-width="1.1" />
<circle cx="354.25" cy="344.5" r="14.6" fill="#82a39a" stroke="#2a2e2e" stroke-width="1.1"/>
<line x1="330" y1="344.5" x2="404" y2="344.5" stroke="#2a2e2e" stroke-width="1.1" stroke-dasharray="4,3"/>
<line x1="354.25" y1="300" x2="354.25" y2="401" stroke="#2a2e2e" stroke-width="1.1" stroke-dasharray="4,3"/>
<line x1="387" y1="328.7" x2="410" y2="328.7" stroke="#2a2e2e" stroke-width="1.1" stroke-dasharray="4,3"/>
<line x1="326" y1="391" x2="342" y2="391" stroke="#2a2e2e" stroke-width="1.1" stroke-dasharray="4,3"/>
<circle cx="376.4" cy="382.8" r="6" fill="#b8c6c3" stroke="#2a2e2e" stroke-width="1.1"/>
<circle cx="376.4" cy="382.8" r="3" fill="#fff" stroke="#2a2e2e" stroke-width="1"/>
<line x1="368" y1="382.8" x2="385" y2="382.8" stroke="#2a2e2e" stroke-width="0.8" />
<line x1="376.4" y1="374" x2="376.4" y2="391" stroke="#2a2e2e" stroke-width="0.8" />
<rect x="334" y="401" width="40.5" height="40" fill="#b8c6c3" stroke="#2a2e2e" stroke-width="1.1" />
<line x1="342.9" y1="401" x2="342.9" y2="420.4" stroke="#2a2e2e" stroke-width="0.9" />
<line x1="367" y1="401" x2="367" y2="420.4" stroke="#2a2e2e" stroke-width="0.9" />
<rect x="351.8" y="401.5" width="5.5" height="19" fill="#9fb1ad" stroke="none" stroke-width="0" />
<line x1="351.8" y1="401" x2="351.8" y2="420.4" stroke="#2a2e2e" stroke-width="0.7" />
<line x1="357.3" y1="401" x2="357.3" y2="420.4" stroke="#2a2e2e" stroke-width="0.7" />
<rect x="342.9" y="420.4" width="24.1" height="17.2" fill="#b8c6c3" stroke="#2a2e2e" stroke-width="1.0" />
<line x1="339.4" y1="404" x2="339.4" y2="437" stroke="#2a2e2e" stroke-width="0.9" stroke-dasharray="3,3"/>
<line x1="369" y1="404" x2="369" y2="437" stroke="#2a2e2e" stroke-width="0.9" stroke-dasharray="3,3"/>
<path d="M334,441 L374.5,441 L374.5,447 L366.3,462.4 L341.5,462.4 L336.7,454.8 L334,447 Z" fill="#b8c6c3" stroke="#2a2e2e" stroke-width="1.1" />
<line x1="340" y1="441" x2="340" y2="447" stroke="#2a2e2e" stroke-width="0.8" />
<line x1="347.7" y1="441" x2="347.7" y2="447" stroke="#2a2e2e" stroke-width="0.8" />
<line x1="361.5" y1="441" x2="361.5" y2="447" stroke="#2a2e2e" stroke-width="0.8" />
<line x1="368" y1="441" x2="368" y2="447" stroke="#2a2e2e" stroke-width="0.8" />
<line x1="334" y1="447" x2="374.5" y2="447" stroke="#2a2e2e" stroke-width="0.8" />
<rect x="347.7" y="447" width="13.8" height="11.3" fill="#b8c6c3" stroke="#2a2e2e" stroke-width="0.9" />
<line x1="352" y1="447" x2="352" y2="458" stroke="#2a2e2e" stroke-width="0.7" />
<line x1="357" y1="447" x2="357" y2="458" stroke="#2a2e2e" stroke-width="0.7" />
<line x1="352" y1="452.5" x2="357" y2="452.5" stroke="#2a2e2e" stroke-width="0.7" />
<line x1="354.5" y1="401" x2="354.5" y2="440" stroke="#2a2e2e" stroke-width="1" stroke-dasharray="4,3"/>
<line x1="373" y1="434.5" x2="467.02" y2="385.55" stroke="#2a2e2e" stroke-width="1.4" stroke-dasharray="6,4"/>
<line x1="373" y1="434.5" x2="459.29" y2="408.94" stroke="#2a2e2e" stroke-width="1.4" stroke-dasharray="6,4"/>
<line x1="373" y1="434.5" x2="485.0" y2="434.5" stroke="#2a2e2e" stroke-width="1.4" stroke-dasharray="6,4"/>
<line x1="373" y1="434.5" x2="459.29" y2="460.06" stroke="#2a2e2e" stroke-width="1.4" stroke-dasharray="6,4"/>
<line x1="373" y1="434.5" x2="467.02" y2="483.45" stroke="#2a2e2e" stroke-width="1.4" stroke-dasharray="6,4"/>
<path d="M466.5,384.5 Q492,434.5 467.4,480.8" fill="none" stroke="#4f8579" stroke-width="1.1"/>
<path d="M466.50,384.50 L470.66,388.57 L467.26,390.27Z" fill="#4f8579"/>
<path d="M467.40,480.80 L468.16,475.03 L471.56,476.73Z" fill="#4f8579"/>
<path d="M480.30,431.00 L478.13,425.60 L481.92,425.41Z" fill="#4f8579"/>
<path d="M480.30,438.00 L481.92,443.59 L478.13,443.40Z" fill="#4f8579"/>
<path d="M459,411 Q465,434.5 458.5,458" fill="none" stroke="#4f8579" stroke-width="1.1"/>
<path d="M459.00,411.00 L462.40,415.72 L458.76,416.81Z" fill="#4f8579"/>
<path d="M458.50,458.00 L458.26,452.19 L461.90,453.28Z" fill="#4f8579"/>
<path d="M461.60,431.00 L459.70,425.50 L463.50,425.50Z" fill="#4f8579"/>
<path d="M461.60,438.00 L463.50,443.50 L459.70,443.50Z" fill="#4f8579"/>
<text x="467.4" y="382.5" font-size="6.8" font-weight="normal" font-style="normal" text-anchor="middle" fill="#444" >3</text>
<text x="466.2" y="490" font-size="6.8" font-weight="normal" font-style="normal" text-anchor="middle" fill="#444" >3</text>
<text x="456" y="407.5" font-size="6.8" font-weight="normal" font-style="normal" text-anchor="middle" fill="#444" >1</text>
<text x="455.7" y="465.5" font-size="6.8" font-weight="normal" font-style="normal" text-anchor="middle" fill="#444" >2</text>
<text x="489.5" y="436.8" font-size="6.8" font-weight="normal" font-style="normal" text-anchor="middle" fill="#444" >0</text>
<text transform="translate(465.5,424) rotate(90)" font-size="6.8" text-anchor="middle" fill="#262626">16°30'</text>
<text transform="translate(456,445) rotate(-90)" font-size="6.8" text-anchor="middle" fill="#262626">16°30'</text>
<text transform="translate(474,457.5) rotate(-78)" font-size="6.8" text-anchor="middle" fill="#262626">27°30'</text>
<text transform="translate(480,407) rotate(75)" font-size="6.8" text-anchor="middle" fill="#262626">25°</text>
<circle cx="469.2" cy="422.2" r="1.1" fill="#222" stroke="none" stroke-width="0"/>
<circle cx="470.7" cy="432" r="1.1" fill="#222" stroke="none" stroke-width="0"/>
<circle cx="452.7" cy="435.7" r="1.1" fill="#222" stroke="none" stroke-width="0"/>
<circle cx="451.2" cy="446.2" r="1.1" fill="#222" stroke="none" stroke-width="0"/>
<circle cx="471" cy="448.3" r="1.1" fill="#222" stroke="none" stroke-width="0"/>
<circle cx="468.2" cy="457.4" r="1.1" fill="#222" stroke="none" stroke-width="0"/>
<circle cx="485" cy="411" r="1.1" fill="#222" stroke="none" stroke-width="0"/>
<path d="M373.8,415 L383,415 Q385.5,415 385.5,417.5 L403.4,424.6 L403.4,426 L424.7,426 L424.7,443.1 L403.4,443.1 L403.4,443.8 L385.5,451.5 Q385.5,454.1 383,454.1 L373.8,454.1 Z" fill="#b8c6c3" stroke="#2a2e2e" stroke-width="1.1" />
<line x1="385.5" y1="417.5" x2="385.5" y2="451.5" stroke="#2a2e2e" stroke-width="0.9" />
<line x1="389.3" y1="417.7" x2="389.3" y2="451.3" stroke="#2a2e2e" stroke-width="0.8" />
<line x1="393" y1="419.2" x2="393" y2="449.8" stroke="#2a2e2e" stroke-width="0.8" />
<line x1="396.5" y1="420.7" x2="396.5" y2="448.3" stroke="#2a2e2e" stroke-width="0.8" />
<line x1="399.8" y1="422.1" x2="399.8" y2="446.9" stroke="#2a2e2e" stroke-width="0.8" />
<line x1="407" y1="426" x2="407" y2="443.1" stroke="#55605e" stroke-width="0.6" />
<line x1="412" y1="426" x2="412" y2="443.1" stroke="#55605e" stroke-width="0.6" />
<line x1="417" y1="426" x2="417" y2="443.1" stroke="#55605e" stroke-width="0.6" />
<line x1="421" y1="426" x2="421" y2="443.1" stroke="#55605e" stroke-width="0.6" />
<line x1="408" y1="427" x2="420" y2="442" stroke="#2a2e2e" stroke-width="0.7" />
<line x1="408" y1="442" x2="420" y2="427" stroke="#2a2e2e" stroke-width="0.7" />
<circle cx="375.9" cy="434.2" r="3" fill="#b8c6c3" stroke="#2a2e2e" stroke-width="1"/>
<line x1="375.9" y1="434.2" x2="396.5" y2="423.2" stroke="#2a2e2e" stroke-width="0.7" />
<line x1="375.9" y1="434.2" x2="396.5" y2="445.9" stroke="#2a2e2e" stroke-width="0.7" />
<line x1="424.75" y1="445" x2="424.75" y2="490" stroke="#4f8579" stroke-width="1" />
<line x1="354.75" y1="463" x2="354.75" y2="478" stroke="#4f8579" stroke-width="1" />
<line x1="376" y1="455" x2="376" y2="478" stroke="#4f8579" stroke-width="1" />
<line x1="354.75" y1="474.2" x2="376" y2="474.2" stroke="#4f8579" stroke-width="1" />
<path d="M354.75,474.20 L360.25,472.30 L360.25,476.10Z" fill="#4f8579"/>
<path d="M376.00,474.20 L370.50,476.10 L370.50,472.30Z" fill="#4f8579"/>
<text x="366" y="471.5" font-size="7.2" font-weight="normal" text-anchor="middle" fill="#262626">24</text>
<line x1="331.75" y1="487.7" x2="424.75" y2="487.7" stroke="#4f8579" stroke-width="1" />
<path d="M331.75,487.70 L337.25,485.80 L337.25,489.60Z" fill="#4f8579"/>
<path d="M424.75,487.70 L419.25,489.60 L419.25,485.80Z" fill="#4f8579"/>
<text x="384.3" y="485" font-size="7.2" font-weight="normal" text-anchor="middle" fill="#262626">102,5</text>
<line x1="392.5" y1="468.5" x2="409" y2="468.5" stroke="#2a2e2e" stroke-width="0.8" />
<line x1="409" y1="468.5" x2="413.5" y2="444.5" stroke="#2a2e2e" stroke-width="0.8" />
<path d="M413.50,444.50 L414.16,448.17 L411.60,447.71Z" fill="#2a2e2e"/>
<text x="399.5" y="466.5" font-size="7.2" font-weight="normal" font-style="normal" text-anchor="middle" fill="#262626" >M10</text>
<path d="M69.6,514.6 L221.5,514.6 L221.5,516.7 L229.5,516.7 L229.5,557.3 L226.3,557.3 L226.3,574 Q226.3,578 222,578 L77,578 Q73.75,578 73.75,574 L73.75,562.8 L69.6,562.8 Z" fill="#b8c6c3" stroke="#2a2e2e" stroke-width="1.2" />
<rect x="229.5" y="525.6" width="2.2" height="24.8" fill="#55605e" stroke="#2a2e2e" stroke-width="0.8" />
<line x1="75" y1="558" x2="221.5" y2="558" stroke="#2a2e2e" stroke-width="0.9" />
<path d="M221.5,516.7 L221.5,562.8 L205,562.8 L205,558" fill="none" stroke="#2a2e2e" stroke-width="0.9" />
<line x1="73" y1="520" x2="73" y2="556" stroke="#2a2e2e" stroke-width="0.9" />
<line x1="73" y1="520" x2="77" y2="520" stroke="#2a2e2e" stroke-width="0.8" />
<line x1="73" y1="556" x2="77" y2="556" stroke="#2a2e2e" stroke-width="0.8" />
<path d="M96.5,520 L111.6,520 L111.6,553.8 L96.5,553.8 A16.9,16.9 0 0 1 96.5,520 Z" fill="#82a39a" stroke="#2a2e2e" stroke-width="1"/>
<rect x="192.6" y="520" width="17.2" height="33.8" rx="3" fill="#7c9f96" stroke="#2a2e2e" stroke-width="1"/>
<circle cx="96.5" cy="537" r="11" fill="#b8c6c3" stroke="#2a2e2e" stroke-width="1"/>
<circle cx="96.5" cy="537" r="8.3" fill="#b8c6c3" stroke="#2a2e2e" stroke-width="1.0"/>
<circle cx="96.5" cy="537" r="5.5" fill="#b8c6c3" stroke="#2a2e2e" stroke-width="1.8"/>
<circle cx="96.5" cy="537" r="2.6" fill="#f0f3f2" stroke="#2a2e2e" stroke-width="0.8"/>
<rect x="111.6" y="515.5" width="40.0" height="42.5" rx="6" fill="#b8c6c3" stroke="#2a2e2e" stroke-width="1.1"/>
<circle cx="131.25" cy="537" r="16" fill="#b8c6c3" stroke="#2a2e2e" stroke-width="1.2"/>
<circle cx="131.25" cy="537" r="12.5" fill="#c3cfcc" stroke="#2a2e2e" stroke-width="0.9"/>
<circle cx="131.25" cy="537" r="8.5" fill="#b8c6c3" stroke="#2a2e2e" stroke-width="1.6"/>
<circle cx="131.25" cy="537" r="2.8" fill="#f0f3f2" stroke="#2a2e2e" stroke-width="0.9"/>
<circle cx="116.45" cy="522.2" r="4.5" fill="#b8c6c3" stroke="#2a2e2e" stroke-width="1.2"/>
<circle cx="116.45" cy="522.2" r="2.1" fill="#f7f9f8" stroke="#2a2e2e" stroke-width="0.5"/>
<circle cx="116.45" cy="552.5" r="4.5" fill="#b8c6c3" stroke="#2a2e2e" stroke-width="1.2"/>
<circle cx="116.45" cy="552.5" r="2.1" fill="#f7f9f8" stroke="#2a2e2e" stroke-width="0.5"/>
<circle cx="146.05" cy="522.2" r="4.5" fill="#b8c6c3" stroke="#2a2e2e" stroke-width="1.2"/>
<circle cx="146.05" cy="522.2" r="2.1" fill="#f7f9f8" stroke="#2a2e2e" stroke-width="0.5"/>
<circle cx="146.05" cy="552.5" r="4.5" fill="#b8c6c3" stroke="#2a2e2e" stroke-width="1.2"/>
<circle cx="146.05" cy="552.5" r="2.1" fill="#f7f9f8" stroke="#2a2e2e" stroke-width="0.5"/>
<rect x="151.6" y="515.5" width="41.0" height="42.5" rx="6" fill="#b8c6c3" stroke="#2a2e2e" stroke-width="1.1"/>
<circle cx="172" cy="537" r="16" fill="#b8c6c3" stroke="#2a2e2e" stroke-width="1.2"/>
<circle cx="172" cy="537" r="12.5" fill="#c3cfcc" stroke="#2a2e2e" stroke-width="0.9"/>
<circle cx="172" cy="537" r="8.5" fill="#b8c6c3" stroke="#2a2e2e" stroke-width="1.6"/>
<circle cx="172" cy="537" r="2.8" fill="#f0f3f2" stroke="#2a2e2e" stroke-width="0.9"/>
<circle cx="157.2" cy="522.2" r="4.5" fill="#b8c6c3" stroke="#2a2e2e" stroke-width="1.2"/>
<circle cx="157.2" cy="522.2" r="2.1" fill="#f7f9f8" stroke="#2a2e2e" stroke-width="0.5"/>
<circle cx="157.2" cy="552.5" r="4.5" fill="#b8c6c3" stroke="#2a2e2e" stroke-width="1.2"/>
<circle cx="157.2" cy="552.5" r="2.1" fill="#f7f9f8" stroke="#2a2e2e" stroke-width="0.5"/>
<circle cx="186.8" cy="522.2" r="4.5" fill="#b8c6c3" stroke="#2a2e2e" stroke-width="1.2"/>
<circle cx="186.8" cy="522.2" r="2.1" fill="#f7f9f8" stroke="#2a2e2e" stroke-width="0.5"/>
<circle cx="186.8" cy="552.5" r="4.5" fill="#b8c6c3" stroke="#2a2e2e" stroke-width="1.2"/>
<circle cx="186.8" cy="552.5" r="2.1" fill="#f7f9f8" stroke="#2a2e2e" stroke-width="0.5"/>
<line x1="63.75" y1="537" x2="235" y2="537" stroke="#2a2e2e" stroke-width="1" stroke-dasharray="4,3"/>
<line x1="96.5" y1="522" x2="96.5" y2="600" stroke="#2a2e2e" stroke-width="0.9" stroke-dasharray="4,3"/>
<line x1="131.25" y1="508" x2="131.25" y2="614" stroke="#2a2e2e" stroke-width="0.9" stroke-dasharray="4,3"/>
<line x1="172" y1="508" x2="172" y2="614" stroke="#2a2e2e" stroke-width="0.9" stroke-dasharray="4,3"/>
<line x1="80.5" y1="508" x2="80.5" y2="565" stroke="#2a2e2e" stroke-width="0.8" stroke-dasharray="3,3"/>
<line x1="213" y1="508" x2="213" y2="565" stroke="#2a2e2e" stroke-width="0.8" stroke-dasharray="3,3"/>
<line x1="205" y1="565" x2="205" y2="592" stroke="#2a2e2e" stroke-width="0.8" stroke-dasharray="3,3"/>
<path d="M95.8,558 L95.8,573.8 L111,573.8" fill="none" stroke="#2a2e2e" stroke-width="0.9" />
<line x1="111.6" y1="558" x2="111.6" y2="578" stroke="#2a2e2e" stroke-width="0.9" />
<line x1="121.9" y1="558" x2="121.9" y2="578" stroke="#2a2e2e" stroke-width="0.9" />
<line x1="140.5" y1="558" x2="140.5" y2="578" stroke="#2a2e2e" stroke-width="0.9" />
<line x1="163" y1="558" x2="163" y2="578" stroke="#2a2e2e" stroke-width="0.9" />
<line x1="182.3" y1="558" x2="182.3" y2="578" stroke="#2a2e2e" stroke-width="0.9" />
<rect x="84" y="578" width="24.8" height="5.4" fill="#a2b1ae" stroke="#2a2e2e" stroke-width="1" />
<rect x="189.9" y="578" width="28.9" height="5.4" fill="#a2b1ae" stroke="#2a2e2e" stroke-width="1" />
<rect x="121.9" y="578" width="18.6" height="30.2" fill="#b8c6c3" stroke="#2a2e2e" stroke-width="1.1" />
<rect x="122.4" y="583" width="17.6" height="3" fill="#9fb0ac" stroke="#2a2e2e" stroke-width="0.8" />
<circle cx="131.5" cy="597.2" r="5" fill="#b8c6c3" stroke="#2a2e2e" stroke-width="1.6"/>
<circle cx="131.5" cy="597.2" r="3.2" fill="#f7f9f8" stroke="#2a2e2e" stroke-width="0.6"/>
<line x1="131.5" y1="594" x2="131.5" y2="600.4" stroke="#2a2e2e" stroke-width="0.8" />
<rect x="163" y="578" width="18.6" height="30.2" fill="#b8c6c3" stroke="#2a2e2e" stroke-width="1.1" />
<rect x="163.5" y="583" width="17.6" height="3" fill="#9fb0ac" stroke="#2a2e2e" stroke-width="0.8" />
<circle cx="172" cy="597.2" r="5" fill="#b8c6c3" stroke="#2a2e2e" stroke-width="1.6"/>
<circle cx="172" cy="597.2" r="3.2" fill="#f7f9f8" stroke="#2a2e2e" stroke-width="0.6"/>
<line x1="172" y1="594" x2="172" y2="600.4" stroke="#2a2e2e" stroke-width="0.8" />
<path d="M240,533.7 L252.5,537.5 L240,541.3 L243,537.5 Z" fill="#3d7a6c"/>
<rect x="257.5" y="515.5" width="80" height="60.75" fill="#6f9a8e" stroke="#2a2e2e" stroke-width="1.5" />
<text x="297.5" y="529.5" font-size="6.6" font-weight="normal" font-style="normal" text-anchor="middle" fill="#a6bbb4" >WALVOIL</text>
<text x="297.5" y="538.2" font-size="6.6" font-weight="normal" font-style="normal" text-anchor="middle" fill="#a6bbb4" >5D11/2-P</text>
<text x="297.5" y="547" font-size="6.6" font-weight="normal" font-style="normal" text-anchor="middle" fill="#a6bbb4" >P0600001</text>
<text x="297.5" y="555.8" font-size="6.6" font-weight="normal" font-style="normal" text-anchor="middle" fill="#a6bbb4" >104211001</text>
<text x="297.5" y="564" font-size="6.6" font-weight="normal" font-style="normal" text-anchor="middle" fill="#a6bbb4" >MADE IN ITALY</text>
<path d="M327.5,532.5 L342.5,532.5 L342.5,517 L352.5,517" fill="none" stroke="#2f6d60" stroke-width="1.1" />
<path d="M327.5,545.5 L351.25,545.5" fill="none" stroke="#2f6d60" stroke-width="1.1" />
<path d="M351.25,532.5 L351.25,561.25" fill="none" stroke="#2f6d60" stroke-width="1.1" />
<path d="M327.5,556.25 L342.5,556.25 L342.5,573.75 L352.5,573.75" fill="none" stroke="#2f6d60" stroke-width="1.1" />
<text x="357.5" y="520.5" font-size="7.2" font-weight="normal" font-style="normal" text-anchor="start" fill="#262626" >Monoblockventiltyp</text>
<text x="357.5" y="541.3" font-size="7.2" font-weight="normal" font-style="normal" text-anchor="start" fill="#262626" >Produktionscode</text>
<text x="357.5" y="549.6" font-size="6.9" font-weight="normal" font-style="normal" text-anchor="start" fill="#262626" >P06 = Produktionsjahr (2006)</text>
<text x="357.5" y="558" font-size="6.9" font-weight="normal" font-style="normal" text-anchor="start" fill="#262626" >00001 = fertlaufende Nummer</text>
<text x="355" y="576.3" font-size="7.2" font-weight="normal" font-style="normal" text-anchor="start" fill="#262626" >Teilenummer</text>
<text x="605.5" y="218" font-size="11" fill="#222"><tspan font-weight="bold" font-style="italic">Typ 3</tspan><tspan font-style="italic" fill="#555"> ew</tspan></text>
<text x="705" y="217.5" font-size="6" font-weight="bold" font-style="normal" text-anchor="middle" fill="#262626" >1</text>
<text x="779.5" y="217.5" font-size="6" font-weight="bold" font-style="normal" text-anchor="middle" fill="#262626" >2</text>
<rect x="736.25" y="208.4" width="11.25" height="11.9" fill="#76a094" stroke="#2a2e2e" stroke-width="1.1" />
<text x="741.9" y="217.5" font-size="5.5" font-weight="bold" font-style="normal" text-anchor="middle" fill="#222" >0</text>
<rect x="684.25" y="253.75" width="38.75" height="25.75" fill="#b9c8c4" stroke="#2a2e2e" stroke-width="1.4" />
<rect x="723" y="253.75" width="37" height="25.75" fill="#80a59a" stroke="#2a2e2e" stroke-width="1.4" />
<rect x="760" y="253.75" width="39.5" height="25.75" fill="#b9c8c4" stroke="#2a2e2e" stroke-width="1.4" />
<line x1="728.75" y1="232.5" x2="728.75" y2="253.75" stroke="#4f8579" stroke-width="1.1" />
<line x1="728.75" y1="279.5" x2="728.75" y2="298.75" stroke="#4f8579" stroke-width="1.1" />
<line x1="742" y1="279.5" x2="742" y2="298.75" stroke="#4f8579" stroke-width="1.1" />
<text x="723.75" y="237.5" font-size="6" font-weight="bold" font-style="normal" text-anchor="middle" fill="#262626" >A</text>
<text x="723.25" y="299.5" font-size="6" font-weight="bold" font-style="normal" text-anchor="middle" fill="#262626" >P</text>
<text x="747" y="299.5" font-size="6" font-weight="bold" font-style="normal" text-anchor="middle" fill="#262626" >T</text>
<line x1="691.25" y1="278" x2="691.25" y2="256" stroke="#3b7565" stroke-width="1.1" />
<path d="M691.25,256.00 L693.45,261.00 L689.05,261.00Z" fill="#3b7565"/>
<line x1="716.25" y1="254.75" x2="716.25" y2="260.75" stroke="#3b7565" stroke-width="1" />
<line x1="713.25" y1="260.75" x2="719.25" y2="260.75" stroke="#3b7565" stroke-width="1.1" />
<line x1="702" y1="278.5" x2="702" y2="272.5" stroke="#3b7565" stroke-width="1" />
<line x1="699" y1="272.5" x2="705" y2="272.5" stroke="#3b7565" stroke-width="1.1" />
<line x1="716.25" y1="278.5" x2="716.25" y2="272.5" stroke="#3b7565" stroke-width="1" />
<line x1="713.25" y1="272.5" x2="719.25" y2="272.5" stroke="#3b7565" stroke-width="1.1" />
<line x1="728.75" y1="254.75" x2="728.75" y2="260.75" stroke="#3b7565" stroke-width="1" />
<line x1="725.75" y1="260.75" x2="731.75" y2="260.75" stroke="#3b7565" stroke-width="1.1" />
<line x1="728.75" y1="278.5" x2="728.75" y2="272.5" stroke="#3b7565" stroke-width="1" />
<line x1="725.75" y1="272.5" x2="731.75" y2="272.5" stroke="#3b7565" stroke-width="1.1" />
<line x1="742" y1="278.5" x2="742" y2="272.5" stroke="#3b7565" stroke-width="1" />
<line x1="739" y1="272.5" x2="745" y2="272.5" stroke="#3b7565" stroke-width="1.1" />
<line x1="754.5" y1="278" x2="754.5" y2="256" stroke="#3b7565" stroke-width="1.1" />
<path d="M754.50,256.00 L756.70,261.00 L752.30,261.00Z" fill="#3b7565"/>
<line x1="767" y1="256.25" x2="779.5" y2="277.5" stroke="#3b7565" stroke-width="1.1" />
<path d="M779.50,277.50 L775.07,274.31 L778.86,272.07Z" fill="#3b7565"/>
<line x1="767" y1="278.5" x2="767" y2="272.5" stroke="#3b7565" stroke-width="1" />
<line x1="764" y1="272.5" x2="770" y2="272.5" stroke="#3b7565" stroke-width="1.1" />
<line x1="792.5" y1="278" x2="792.5" y2="256" stroke="#3b7565" stroke-width="1.1" />
<path d="M792.50,256.00 L794.70,261.00 L790.30,261.00Z" fill="#3b7565"/>
<text x="604.5" y="364.5" font-size="11" fill="#222"><tspan font-weight="bold" font-style="italic">Typ 1</tspan><tspan font-style="italic" fill="#555"> dw</tspan></text>
<text x="705" y="364.5" font-size="6" font-weight="bold" font-style="normal" text-anchor="middle" fill="#262626" >1</text>
<text x="779.5" y="364.5" font-size="6" font-weight="bold" font-style="normal" text-anchor="middle" fill="#262626" >2</text>
<rect x="736.25" y="355.5" width="11.25" height="11.5" fill="#76a094" stroke="#2a2e2e" stroke-width="1.1" />
<text x="741.9" y="363.8" font-size="5.5" font-weight="bold" font-style="normal" text-anchor="middle" fill="#222" >0</text>
<rect x="684.25" y="400.5" width="38.75" height="25.75" fill="#b9c8c4" stroke="#2a2e2e" stroke-width="1.4" />
<rect x="723" y="400.5" width="37" height="25.75" fill="#80a59a" stroke="#2a2e2e" stroke-width="1.4" />
<rect x="760" y="400.5" width="39.5" height="25.75" fill="#b9c8c4" stroke="#2a2e2e" stroke-width="1.4" />
<line x1="728.75" y1="380" x2="728.75" y2="400.5" stroke="#4f8579" stroke-width="1.1" />
<line x1="728.75" y1="426.25" x2="728.75" y2="446.25" stroke="#4f8579" stroke-width="1.1" />
<line x1="742" y1="380" x2="742" y2="400.5" stroke="#4f8579" stroke-width="1.1" />
<line x1="742" y1="426.25" x2="742" y2="446.25" stroke="#4f8579" stroke-width="1.1" />
<text x="723.5" y="384.5" font-size="6" font-weight="bold" font-style="normal" text-anchor="middle" fill="#262626" >A</text>
<text x="749" y="384.5" font-size="6" font-weight="bold" font-style="normal" text-anchor="middle" fill="#262626" >B</text>
<text x="723" y="447.5" font-size="6" font-weight="bold" font-style="normal" text-anchor="middle" fill="#262626" >P</text>
<text x="749" y="447.5" font-size="6" font-weight="bold" font-style="normal" text-anchor="middle" fill="#262626" >T</text>
<line x1="691.25" y1="425" x2="691.25" y2="403" stroke="#3b7565" stroke-width="1.1" />
<path d="M691.25,403.00 L693.45,408.00 L689.05,408.00Z" fill="#3b7565"/>
<line x1="703" y1="403" x2="703" y2="425" stroke="#3b7565" stroke-width="1.1" />
<path d="M703.00,425.00 L700.80,420.00 L705.20,420.00Z" fill="#3b7565"/>
<line x1="716.25" y1="401.5" x2="716.25" y2="407.5" stroke="#3b7565" stroke-width="1" />
<line x1="713.25" y1="407.5" x2="719.25" y2="407.5" stroke="#3b7565" stroke-width="1.1" />
<line x1="716.25" y1="425.25" x2="716.25" y2="419.25" stroke="#3b7565" stroke-width="1" />
<line x1="713.25" y1="419.25" x2="719.25" y2="419.25" stroke="#3b7565" stroke-width="1.1" />
<line x1="728.75" y1="401.5" x2="728.75" y2="407.5" stroke="#3b7565" stroke-width="1" />
<line x1="725.75" y1="407.5" x2="731.75" y2="407.5" stroke="#3b7565" stroke-width="1.1" />
<line x1="742" y1="401.5" x2="742" y2="407.5" stroke="#3b7565" stroke-width="1" />
<line x1="739" y1="407.5" x2="745" y2="407.5" stroke="#3b7565" stroke-width="1.1" />
<line x1="728.75" y1="425.25" x2="728.75" y2="419.25" stroke="#3b7565" stroke-width="1" />
<line x1="725.75" y1="419.25" x2="731.75" y2="419.25" stroke="#3b7565" stroke-width="1.1" />
<line x1="742" y1="425.25" x2="742" y2="419.25" stroke="#3b7565" stroke-width="1" />
<line x1="739" y1="419.25" x2="745" y2="419.25" stroke="#3b7565" stroke-width="1.1" />
<line x1="754.5" y1="425" x2="754.5" y2="403" stroke="#3b7565" stroke-width="1.1" />
<path d="M754.50,403.00 L756.70,408.00 L752.30,408.00Z" fill="#3b7565"/>
<line x1="767" y1="424" x2="779.5" y2="402.5" stroke="#3b7565" stroke-width="1.1" />
<path d="M779.50,402.50 L778.89,407.93 L775.08,405.72Z" fill="#3b7565"/>
<line x1="767" y1="402.5" x2="779.5" y2="424" stroke="#3b7565" stroke-width="1.1" />
<path d="M779.50,424.00 L775.08,420.78 L778.89,418.57Z" fill="#3b7565"/>
<line x1="792.5" y1="401.5" x2="792.5" y2="407.5" stroke="#3b7565" stroke-width="1" />
<line x1="789.5" y1="407.5" x2="795.5" y2="407.5" stroke="#3b7565" stroke-width="1.1" />
<line x1="792.5" y1="425.25" x2="792.5" y2="419.25" stroke="#3b7565" stroke-width="1" />
<line x1="789.5" y1="419.25" x2="795.5" y2="419.25" stroke="#3b7565" stroke-width="1.1" />
<text x="505" y="510.6" font-size="10.9" font-weight="bold" font-style="italic" fill="#222">Typ 5DY 5PY</text>
<text x="505" y="524.6" font-size="11.2" font-style="italic" fill="#555">dw mit Schwimmstellung</text>
<text x="674.5" y="517" font-size="8.5" font-weight="bold" font-style="normal" text-anchor="middle" fill="#262626" >3</text>
<text x="711.25" y="517" font-size="8.5" font-weight="bold" font-style="normal" text-anchor="middle" fill="#262626" >1</text>
<text x="779.5" y="517" font-size="8.5" font-weight="bold" font-style="normal" text-anchor="middle" fill="#262626" >2</text>
<rect x="737" y="502" width="16" height="16" fill="#76a094" stroke="#2a2e2e" stroke-width="1.2" />
<text x="745" y="513.5" font-size="8" font-weight="bold" font-style="normal" text-anchor="middle" fill="#222" >0</text>
<rect x="658" y="548.75" width="34" height="24.25" fill="#b9c8c4" stroke="#2a2e2e" stroke-width="1.3" />
<rect x="692" y="548.75" width="36" height="24.25" fill="#b9c8c4" stroke="#2a2e2e" stroke-width="1.3" />
<rect x="728" y="548.75" width="35.75" height="24.25" fill="#80a59a" stroke="#2a2e2e" stroke-width="1.3" />
<rect x="763.75" y="548.75" width="35.75" height="24.25" fill="#b9c8c4" stroke="#2a2e2e" stroke-width="1.3" />
<rect x="610" y="548.75" width="48" height="12.5" fill="#b9c8c4" stroke="#2a2e2e" stroke-width="1.2" />
<line x1="622.5" y1="548.75" x2="622.5" y2="561.25" stroke="#2a2e2e" stroke-width="1" />
<line x1="633.75" y1="548.75" x2="633.75" y2="561.25" stroke="#2a2e2e" stroke-width="1" />
<line x1="646.25" y1="548.75" x2="646.25" y2="561.25" stroke="#2a2e2e" stroke-width="1" />
<path d="M612.5,549 L616.9,553.3 L619.4,549" fill="#fff" stroke="#2a2e2e" stroke-width="1.1" />
<line x1="640" y1="542" x2="640" y2="548.75" stroke="#2a2e2e" stroke-width="1" />
<path d="M640,572.5 L643,563 L646,572.5 L649,563 L652,572.5 L655,563 L658,572.5" fill="none" stroke="#2a2e2e" stroke-width="1" />
<line x1="733.75" y1="528.75" x2="733.75" y2="548.75" stroke="#4f8579" stroke-width="1.1" />
<line x1="733.75" y1="573" x2="733.75" y2="591.25" stroke="#4f8579" stroke-width="1.1" />
<line x1="733.75" y1="548.75" x2="733.75" y2="573" stroke="#4f8579" stroke-width="0.8" />
<line x1="744.5" y1="528.75" x2="744.5" y2="548.75" stroke="#4f8579" stroke-width="1.1" />
<line x1="744.5" y1="573" x2="744.5" y2="591.25" stroke="#4f8579" stroke-width="1.1" />
<line x1="744.5" y1="548.75" x2="744.5" y2="573" stroke="#4f8579" stroke-width="0.8" />
<text x="727.5" y="536" font-size="8.5" font-weight="bold" font-style="normal" text-anchor="middle" fill="#262626" >A</text>
<text x="755" y="536" font-size="8.5" font-weight="bold" font-style="normal" text-anchor="middle" fill="#262626" >B</text>
<text x="728.5" y="592.5" font-size="8.5" font-weight="bold" font-style="normal" text-anchor="middle" fill="#262626" >P</text>
<text x="750" y="592.5" font-size="8.5" font-weight="bold" font-style="normal" text-anchor="middle" fill="#262626" >T</text>
<path d="M663.75,549 L663.75,560 L672.3,560" fill="none" stroke="#2a2e2e" stroke-width="1.1" />
<line x1="675" y1="549" x2="675" y2="573" stroke="#2a2e2e" stroke-width="1.1" />
<circle cx="674.6" cy="560" r="2.3" fill="#b9c8c4" stroke="#2a2e2e" stroke-width="1.0"/>
<line x1="663.1" y1="572" x2="663.1" y2="566" stroke="#3b7565" stroke-width="1" />
<line x1="660.1" y1="566" x2="666.1" y2="566" stroke="#3b7565" stroke-width="1.1" />
<line x1="687" y1="571" x2="687" y2="551" stroke="#3b7565" stroke-width="1.1" />
<path d="M687.00,551.00 L689.20,556.00 L684.80,556.00Z" fill="#3b7565"/>
<line x1="698.25" y1="571" x2="698.25" y2="551" stroke="#3b7565" stroke-width="1.1" />
<path d="M698.25,551.00 L700.45,556.00 L696.05,556.00Z" fill="#3b7565"/>
<line x1="709.25" y1="551" x2="709.25" y2="555.2" stroke="#4f8579" stroke-width="1.1" />
<circle cx="709.25" cy="558" r="2.8" fill="#b9c8c4" stroke="#2a2e2e" stroke-width="1.1"/>
<line x1="709.25" y1="560.8" x2="709.25" y2="571" stroke="#3b7565" stroke-width="1.1" />
<path d="M709.25,571.00 L707.05,566.00 L711.45,566.00Z" fill="#3b7565"/>
<line x1="721" y1="549.75" x2="721" y2="555.75" stroke="#3b7565" stroke-width="1" />
<line x1="718" y1="555.75" x2="724" y2="555.75" stroke="#3b7565" stroke-width="1.1" />
<line x1="721" y1="572" x2="721" y2="566" stroke="#3b7565" stroke-width="1" />
<line x1="718" y1="566" x2="724" y2="566" stroke="#3b7565" stroke-width="1.1" />
<line x1="733.75" y1="549.75" x2="733.75" y2="555.75" stroke="#3b7565" stroke-width="1" />
<line x1="730.75" y1="555.75" x2="736.75" y2="555.75" stroke="#3b7565" stroke-width="1.1" />
<line x1="744.5" y1="549.75" x2="744.5" y2="555.75" stroke="#3b7565" stroke-width="1" />
<line x1="741.5" y1="555.75" x2="747.5" y2="555.75" stroke="#3b7565" stroke-width="1.1" />
<line x1="733.75" y1="572" x2="733.75" y2="566" stroke="#3b7565" stroke-width="1" />
<line x1="730.75" y1="566" x2="736.75" y2="566" stroke="#3b7565" stroke-width="1.1" />
<line x1="744.5" y1="572" x2="744.5" y2="566" stroke="#3b7565" stroke-width="1" />
<line x1="741.5" y1="566" x2="747.5" y2="566" stroke="#3b7565" stroke-width="1.1" />
<line x1="757.4" y1="571" x2="757.4" y2="551" stroke="#3b7565" stroke-width="1.1" />
<path d="M757.40,551.00 L759.60,556.00 L755.20,556.00Z" fill="#3b7565"/>
<line x1="769" y1="569" x2="781" y2="550.5" stroke="#3b7565" stroke-width="1.1" />
<path d="M781.00,550.50 L780.12,555.89 L776.43,553.50Z" fill="#3b7565"/>
<line x1="769" y1="551" x2="781" y2="569.5" stroke="#3b7565" stroke-width="1.1" />
<path d="M781.00,569.50 L776.43,566.50 L780.12,564.11Z" fill="#3b7565"/>
<circle cx="771.5" cy="567" r="3.2" fill="#b9c8c4" stroke="#2a2e2e" stroke-width="1"/>
<line x1="792.5" y1="549.75" x2="792.5" y2="555.75" stroke="#3b7565" stroke-width="1" />
<line x1="789.5" y1="555.75" x2="795.5" y2="555.75" stroke="#3b7565" stroke-width="1.1" />
<line x1="792.5" y1="572" x2="792.5" y2="566" stroke="#3b7565" stroke-width="1" />
<line x1="789.5" y1="566" x2="795.5" y2="566" stroke="#3b7565" stroke-width="1.1" />
</svg></body></html>
